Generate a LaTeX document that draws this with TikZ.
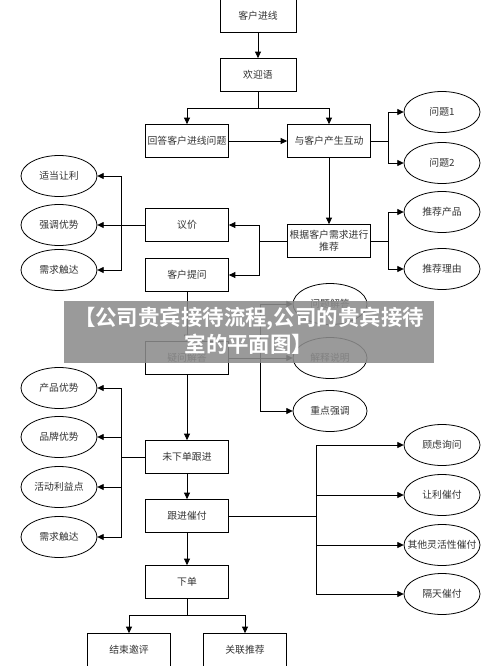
\documentclass[tikz,border=0pt]{standalone}
\usepackage{fontspec}
\setmainfont{Noto Sans CJK SC}
\newfontfamily\cjkbold{Noto Sans CJK SC Bold}
\usetikzlibrary{arrows.meta,shapes.geometric}

\begin{document}
\begin{tikzpicture}[x=0.02cm,y=-0.02cm,
    font=\fontsize{5.6}{7}\selectfont,
    box/.style={draw, line width=0.5pt, minimum width=1.66cm, minimum height=0.66cm, inner sep=0pt, text=black!80},
    oval/.style={draw, ellipse, line width=0.45pt, minimum width=1.52cm, minimum height=0.82cm, inner sep=0pt, text=black!80},
    link/.style={line width=0.5pt},
    arr/.style={link, -{Triangle[length=3.6pt,width=3.4pt]}}]
            \useasboundingbox (0,0) rectangle (500,666);
            % main column
            \node[box, minimum width=1.52cm] (kehu) at (258,16) {客户进线};
            \node[box, minimum width=1.52cm] (huanying) at (258,75) {欢迎语};
            \node[box] (huida) at (187,141) {回答客户进线问题};
            \node[box] (hudong) at (329,141) {与客户产生互动};
            \node[box, align=center, font=\fontsize{5.6}{6.8}\selectfont] (tuijian) at (329,241) {根据客户需求进行\\推荐};
            \node[box] (yijia) at (187,225) {议价};
            \node[box] (tiwen) at (187,275) {客户提问};
            \node[box] (yiwen) at (187,358) {疑问解答};
            \node[box] (weixiadan) at (187,457) {未下单跟进};
            \node[box] (cuifu) at (187,516) {跟进催付};
            \node[box] (xiadan) at (187,582) {下单};
            \node[box] (jieshu) at (129,650) {结束邀评};
            \node[box] (guanlian) at (245,650) {关联推荐};
            % ovals
            \node[oval] (wenti1) at (442,112) {问题1};
            \node[oval] (wenti2) at (442,163) {问题2};
            \node[oval] (chanpin) at (442,212) {推荐产品};
            \node[oval] (liyou) at (442,269) {推荐理由};
            \node[oval] (rangli) at (59,176) {适当让利};
            \node[oval] (qiangdiao) at (59,225) {强调优势};
            \node[oval] (chuda) at (59,270) {需求触达};
            \node[oval, minimum width=1.48cm] (jieda) at (330,304) {问题解答};
            \node[oval, minimum width=1.48cm] (shuoming) at (330,358) {解释说明};
            \node[oval, minimum width=1.48cm] (zhongdian) at (330,411) {重点强调};
            \node[oval] (cpys) at (59,388) {产品优势};
            \node[oval] (ppys) at (59,437) {品牌优势};
            \node[oval] (hdly) at (59,487) {活动利益点};
            \node[oval] (chuda2) at (59,537) {需求触达};
            \node[oval] (guly) at (442,445) {顾虑询问};
            \node[oval] (rlcf) at (442,495) {让利催付};
            \node[oval] (qtcf) at (442,545) {\makebox[0pt]{其他灵活性催付}};
            \node[oval] (gtcf) at (442,594) {隔天催付};
            % branch points
            \coordinate (s1) at (258,108);
            \coordinate (s2) at (388,141);
            \coordinate (s3) at (388,241);
            \coordinate (s4) at (259,241);
            \coordinate (s5) at (121,225);
            \coordinate (s6) at (260,358);
            \coordinate (s7) at (121,457);
            \coordinate (s8) at (316,516);
            \coordinate (s9) at (187,615);
            % connectors
            \draw[arr] (kehu) -- (huanying);
            \draw[link] (huanying) -- (s1);
            \foreach \n in {huida,hudong}
              \draw[arr] (s1) -| (\n);
            \draw[arr] (huida) -- (hudong);
            \draw[link] (hudong) -- (s2);
            \foreach \n in {wenti1,wenti2}
              \draw[arr] (s2) |- (\n);
            \draw[arr] (hudong) -- (tuijian);
            \draw[link] (tuijian) -- (s3);
            \foreach \n in {chanpin,liyou}
              \draw[arr] (s3) |- (\n);
            \draw[link] (tuijian) -- (s4);
            \foreach \n in {yijia,tiwen}
              \draw[arr] (s4) |- (\n);
            \draw[link] (yijia) -- (s5);
            \foreach \n in {rangli,qiangdiao,chuda}
              \draw[arr] (s5) |- (\n);
            \draw[arr] (tiwen) -- (yiwen);
            \draw[link] (yiwen) -- (s6);
            \foreach \n in {jieda,shuoming,zhongdian}
              \draw[arr] (s6) |- (\n);
            \draw[arr] (yiwen) -- (weixiadan);
            \draw[link] (weixiadan) -- (s7);
            \foreach \n in {cpys,ppys,hdly,chuda2}
              \draw[arr] (s7) |- (\n);
            \draw[arr] (weixiadan) -- (cuifu);
            \draw[link] (cuifu) -- (s8);
            \foreach \n in {guly,rlcf,qtcf,gtcf}
              \draw[arr] (s8) |- (\n);
            \draw[arr] (cuifu) -- (xiadan);
            \draw[link] (xiadan) -- (s9);
            \foreach \n in {jieshu,guanlian}
              \draw[arr] (s9) -| (\n);
            % title banner
            \fill[black!45, fill opacity=0.88] (64,301) rectangle (434,363);
            \node[text=white, align=center, font=\cjkbold\fontsize{12.2}{15.4}\selectfont] (banner) at (249,331)
              {【公司贵宾接待流程,公司的贵宾接待\\室的平面图】};
          \end{tikzpicture}
\end{document}
